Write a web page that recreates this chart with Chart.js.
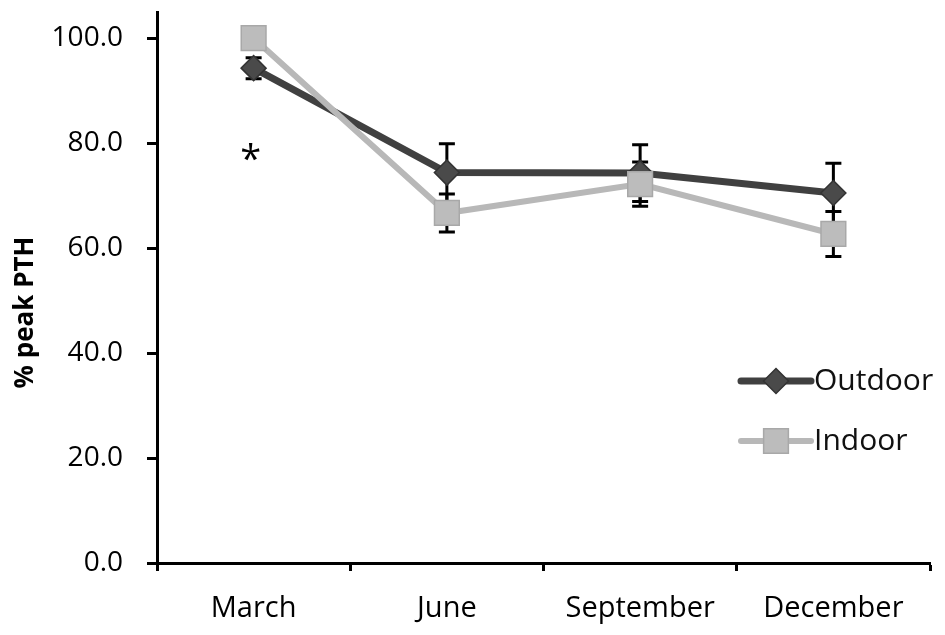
<!DOCTYPE html>
<html>
<head>
<meta charset="utf-8">
<script src="https://cdn.jsdelivr.net/npm/chart.js@4/dist/chart.umd.min.js"></script>
<style>
  html, body { margin: 0; background: #fff; }
  #wrap { width: 945px; height: 635px; }
</style>
</head>
<body>
<div id="wrap"><canvas id="myChartCanvas"></canvas></div>
<script>
const months = ['March', 'June', 'September', 'December'];
const outdoor = [94.3, 74.4, 74.3, 70.5];
const outdoorErr = [2.0, 5.5, 5.4, 5.7];
const indoor = [100.0, 66.7, 72.2, 62.7];
const indoorErr = [0, 3.6, 4.2, 4.3];
const yTicks = [0, 20, 40, 60, 80, 100];
const yTitle = '% peak PTH';
const starMonth = 0;
const starValue = 74.5;

const FONT = "'Open Sans', sans-serif";

// vertical error bars, drawn behind the lines and markers
const errorBars = {
  id: 'errorBars',
  beforeDatasetsDraw(chart) {
    const { ctx, scales: { x, y } } = chart;
    ctx.save();
    ctx.strokeStyle = '#000';
    ctx.lineWidth = 3;
    chart.data.datasets.forEach(ds => {
      ds.data.forEach((v, i) => {
        const e = ds.errors[i];
        if (!e) return;
        const px = x.getPixelForValue(i);
        const top = y.getPixelForValue(v + e);
        const bot = y.getPixelForValue(v - e);
        ctx.beginPath();
        ctx.moveTo(px, top); ctx.lineTo(px, bot);
        ctx.moveTo(px - 8, top); ctx.lineTo(px + 8, top);
        ctx.moveTo(px - 8, bot); ctx.lineTo(px + 8, bot);
        ctx.stroke();
      });
    });
    ctx.restore();
  }
};

// asterisk over March
const star = {
  id: 'star',
  afterDatasetsDraw(chart) {
    const { ctx, scales: { x, y } } = chart;
    ctx.save();
    ctx.fillStyle = '#000';
    ctx.font = '38px ' + FONT;
    ctx.textAlign = 'center';
    ctx.textBaseline = 'alphabetic';
    ctx.fillText('*', x.getPixelForValue(starMonth) - 3, y.getPixelForValue(starValue));
    ctx.restore();
  }
};

// y axis title, placed a bit below the middle like the original
const axisTitle = {
  id: 'axisTitle',
  afterDraw(chart) {
    const { ctx, chartArea: a } = chart;
    ctx.save();
    ctx.translate(26, (a.top + a.bottom) / 2 + 25);
    ctx.rotate(-Math.PI / 2);
    ctx.fillStyle = '#000';
    ctx.font = 'bold 26px ' + FONT;
    ctx.textAlign = 'center';
    ctx.textBaseline = 'middle';
    ctx.fillText(yTitle, 0, 0);
    ctx.restore();
  }
};

// legend inside the plot: line sample with marker, then label
const legendBox = {
  id: 'legendBox',
  afterDraw(chart) {
    const { ctx, chartArea: a } = chart;
    chart.data.datasets.forEach((ds, i) => {
      const yy = a.top + 369 + i * 60;
      const x0 = a.right - 189, x1 = a.right - 119, cx = (x0 + x1) / 2;
      ctx.save();
      ctx.strokeStyle = ds.borderColor;
      ctx.lineWidth = ds.borderWidth;
      ctx.lineCap = 'round';
      ctx.beginPath(); ctx.moveTo(x0, yy); ctx.lineTo(x1, yy); ctx.stroke();
      ctx.fillStyle = ds.pointBackgroundColor;
      ctx.strokeStyle = ds.pointBorderColor;
      ctx.lineWidth = 1.5;
      const r = ds.pointRadius;
      ctx.beginPath();
      if (ds.pointStyle === 'rectRot') {
        ctx.moveTo(cx - r, yy); ctx.lineTo(cx, yy - r);
        ctx.lineTo(cx + r, yy); ctx.lineTo(cx, yy + r);
        ctx.closePath();
      } else {
        const s = r * Math.SQRT1_2;
        ctx.rect(cx - s, yy - s, 2 * s, 2 * s);
      }
      ctx.fill(); ctx.stroke();
      ctx.fillStyle = '#111';
      ctx.font = '30px ' + FONT;
      ctx.textAlign = 'left';
      ctx.textBaseline = 'middle';
      ctx.fillText(ds.label, x1 + 3, yy);
      ctx.restore();
    });
  }
};

const config = {
  type: 'line',
  data: {
    labels: months,
    datasets: [
      {
        label: 'Outdoor',
        data: outdoor,
        errors: outdoorErr,
        borderColor: '#404040',
        borderWidth: 7,
        pointStyle: 'rectRot',
        pointRadius: 12.5,
        pointBackgroundColor: '#4a4a4a',
        pointBorderColor: '#333',
        pointBorderWidth: 1.5,
        clip: false,
        order: 1
      },
      {
        label: 'Indoor',
        data: indoor,
        errors: indoorErr,
        borderColor: '#b8b8b8',
        borderWidth: 6,
        pointStyle: 'rect',
        pointRadius: 17.5,
        pointBackgroundColor: '#bcbcbc',
        pointBorderColor: '#a8a8a8',
        pointBorderWidth: 1.5,
        clip: false,
        order: 0
      }
    ]
  },
  options: {
    responsive: true,
    maintainAspectRatio: false,
    animation: false,
    layout: { autoPadding: false, padding: { top: 12, right: 15, left: 0, bottom: 0 } },
    plugins: {
      legend: { display: false },
      tooltip: { enabled: false }
    },
    scales: {
      x: {
        offset: true,
        grid: { offset: true, drawOnChartArea: false, tickLength: 8, tickWidth: 3, color: '#000' },
        border: { color: '#000', width: 3 },
        ticks: { color: '#000', font: { family: FONT, size: 29 }, padding: 20, maxRotation: 0 },
        afterFit(s) { s.height = 72; }
      },
      y: {
        min: 0,
        max: 105,
        afterBuildTicks(s) { s.ticks = yTicks.map(v => ({ value: v })); },
        grid: { drawOnChartArea: false, tickLength: 10, tickWidth: 3, color: '#000' },
        border: { color: '#000', width: 3 },
        ticks: {
          color: '#000',
          padding: 24,
          font: { family: FONT, size: 28 },
          callback: v => v.toFixed(1)
        },
        afterFit(s) { s.width = 157; s.paddingTop = 0; s.paddingBottom = 0; }
      }
    }
  },
  plugins: [errorBars, star, axisTitle, legendBox]
};

const canvasEl = document.getElementById('myChartCanvas');
const canvasChart = new Chart(canvasEl, config);
</script>
</body>
</html>
